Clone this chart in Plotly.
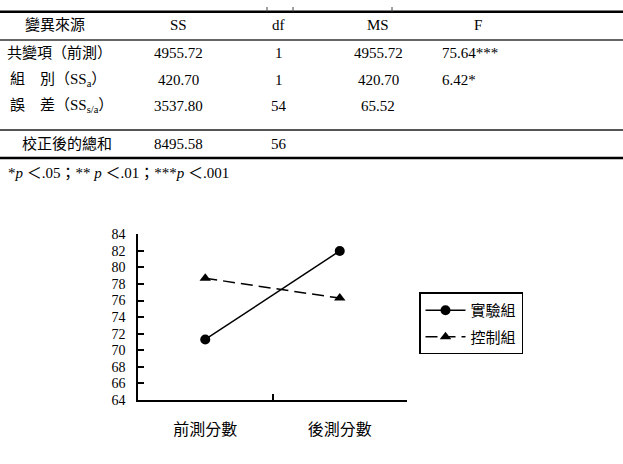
import plotly.graph_objects as go

# ---- data ----
categories = ["前測分數", "後測分數"]
exp_name = "實驗組"
ctl_name = "控制組"
exp_values = [71.3, 82.0]
ctl_values = [78.7, 76.3]

table_header = ["變異來源", "SS", "df", "MS", "F"]
row_labels = ["共變項（前測）", "組　別（SS<sub>a</sub>）", "誤　差（SS<sub>s/a</sub>）", "校正後的總和"]
ss_values = ["4955.72", "420.70", "3537.80", "8495.58"]
df_values = ["1", "1", "54", "56"]
ms_values = ["4955.72", "420.70", "65.52", ""]
f_values = ["75.64***", "6.42*", "", ""]
footnote = "*<i>p</i> ＜.05；** <i>p</i> ＜.01；***<i>p</i> ＜.001"

W, H = 623, 464
SERIF = "Liberation Serif, Times New Roman, Noto Sans CJK TC, serif"


def px_x(x):
    return x / W


def px_y(y):
    return 1 - y / H


fig = go.Figure()
fig.add_trace(go.Scatter(
    x=categories, y=exp_values, name=exp_name, mode="lines+markers",
    line=dict(color="black", width=1.5),
    marker=dict(symbol="circle", size=10, color="black"),
    legendgroup="a",
))
fig.add_trace(go.Scatter(
    x=categories, y=ctl_values, name=ctl_name, mode="lines+markers",
    line=dict(color="black", width=1.5, dash="12px,6px"),
    marker=dict(symbol="triangle-up", size=10, color="black"),
    legendgroup="b",
))

annotations = []
font_txt = dict(family=SERIF, size=15, color="black")

# header
header_x = [55, 178, 278, 378, 478]
for t, x in zip(table_header, header_x):
    annotations.append(dict(text=t, x=px_x(x), y=px_y(19), xref="paper", yref="paper",
                            showarrow=False, xanchor="center", yanchor="middle", font=font_txt))

row_y = [48, 75, 102, 142]
label_x = [5, 8, 8, 20]
for i in range(len(row_labels)):
    y = px_y(row_y[i])
    annotations.append(dict(text=row_labels[i], x=px_x(label_x[i]), y=y, xref="paper", yref="paper",
                            showarrow=False, xanchor="left", yanchor="middle", font=font_txt))
    for val, x, anc in [(ss_values[i], 178, "center"), (df_values[i], 279, "center"),
                        (ms_values[i], 378, "center"), (f_values[i], 440, "left")]:
        if val:
            annotations.append(dict(text=val, x=px_x(x), y=y, xref="paper", yref="paper",
                                    showarrow=False, xanchor=anc, yanchor="middle", font=font_txt))

annotations.append(dict(text=footnote, x=px_x(6), y=px_y(172), xref="paper", yref="paper",
                        showarrow=False, xanchor="left", yanchor="middle", font=font_txt))

shapes = [
    dict(type="line", xref="paper", yref="paper", x0=0, x1=1, y0=px_y(5), y1=px_y(5),
         line=dict(color="black", width=2.5)),
    dict(type="line", xref="paper", yref="paper", x0=0, x1=1, y0=px_y(34), y1=px_y(34),
         line=dict(color="#333", width=1.5)),
    dict(type="line", xref="paper", yref="paper", x0=0, x1=1, y0=px_y(127), y1=px_y(127),
         line=dict(color="#555", width=2)),
    dict(type="line", xref="paper", yref="paper", x0=0, x1=1, y0=px_y(156), y1=px_y(156),
         line=dict(color="black", width=2.5)),
]
for vx in [267, 293, 392]:
    shapes.append(dict(type="line", xref="paper", yref="paper", x0=px_x(vx), x1=px_x(vx),
                       y0=px_y(0), y1=px_y(5), line=dict(color="#444", width=1)))

fig.update_layout(
    width=W, height=H,
    margin=dict(l=0, r=0, t=0, b=0),
    paper_bgcolor="white", plot_bgcolor="white",
    showlegend=True,
    legend=dict(x=px_x(419), y=px_y(295), xanchor="left", yanchor="top",
                bordercolor="black", borderwidth=1.5, bgcolor="white",
                font=dict(family=SERIF, size=15, color="black"),
                tracegroupgap=4, itemwidth=40),
    xaxis=dict(domain=[px_x(138), px_x(407)], type="category", range=[-0.5, 1.5],
               showline=True, linecolor="black", linewidth=1.5,
               ticks="inside", tickson="boundaries", ticklen=6, tickcolor="black", tickwidth=1.5,
               showgrid=False, zeroline=False, ticklabelstandoff=14,
               tickfont=dict(family=SERIF, size=16, color="black")),
    yaxis=dict(domain=[px_y(406), px_y(235)], range=[64, 84], dtick=2, tick0=64,
               showline=True, linecolor="black", linewidth=1.5,
               ticks="inside", ticklen=6, tickcolor="black", tickwidth=1.5,
               showgrid=False, zeroline=False, ticklabelstandoff=8,
               tickfont=dict(family=SERIF, size=14, color="black")),
    annotations=annotations,
    shapes=shapes,
)

fig.write_html("out.html")
